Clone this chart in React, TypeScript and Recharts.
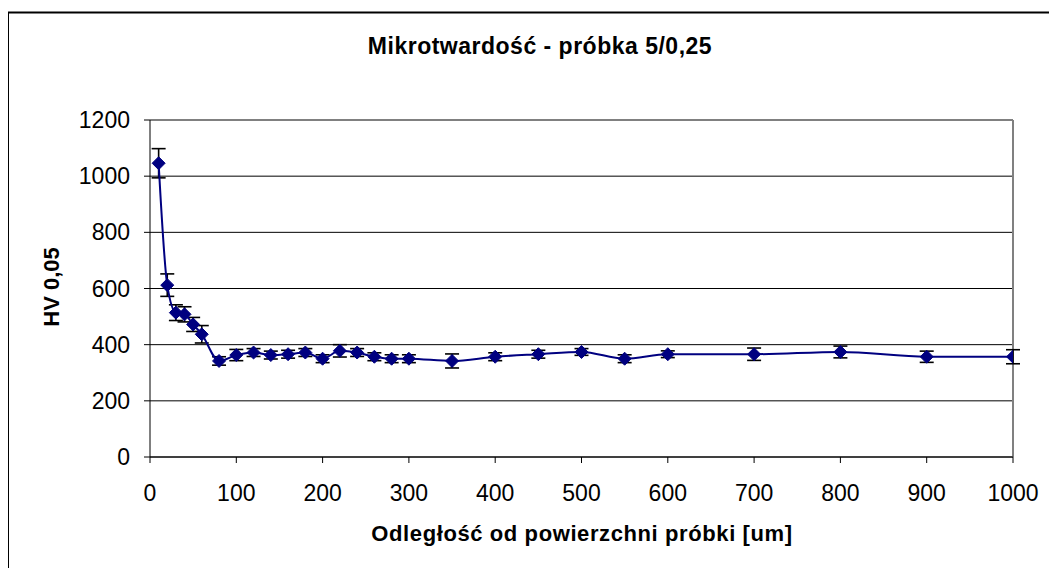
import React from 'react';
import { LineChart, Line, XAxis, YAxis, CartesianGrid, ErrorBar, ReferenceLine } from 'recharts';

const distances = [10, 20, 30, 40, 50, 60, 80, 100, 120, 140, 160, 180, 200, 220, 240, 260, 280, 300, 350, 400, 450, 500, 550, 600, 700, 800, 900, 1000];
const hardness = [1046, 612, 514, 508, 472, 437, 342, 363, 372, 363, 366, 372, 350, 378, 372, 357, 350, 350, 342, 357, 366, 374, 350, 366, 366, 374, 357, 357];
const errors = [52, 40, 28, 27, 25, 31, 15, 20, 14, 14, 14, 14, 14, 22, 14, 14, 14, 14, 25, 14, 14, 12, 14, 12, 22, 21, 20, 25];
const xTicks = [0, 100, 200, 300, 400, 500, 600, 700, 800, 900, 1000];
const yTicks = [0, 200, 400, 600, 800, 1000, 1200];

const title = 'Mikrotwardość - próbka 5/0,25';
const xLabel = 'Odległość od powierzchni próbki [um]';
const yLabel = 'HV 0,05';

const data = distances.map((d, i) => ({ x: d, hv: hardness[i], err: errors[i] }));

const FONT = '"Liberation Sans", Arial, sans-serif';

const Diamond = (props: any) => {
  const { cx, cy, index } = props;
  if (cx == null || cy == null) return <g key={`e-${index}`} />;
  const r = 6.5;
  return (
    <path
      key={`d-${index}`}
      d={`M${cx},${cy - r}L${cx + r},${cy}L${cx},${cy + r}L${cx - r},${cy}Z`}
      fill="#000080"
      stroke="#000080"
      strokeWidth={1}
    />
  );
};

export default function App() {
  return (
    <div style={{ position: 'relative', width: 1041, height: 560, fontFamily: FONT }}>
      <LineChart
        width={1041}
        height={560}
        data={data}
        margin={{ top: 112, right: 36, bottom: 81, left: 0 }}
        style={{ fontFamily: FONT }}
      >
        <CartesianGrid horizontal vertical={false} stroke="#000" strokeWidth={1} />
        <XAxis
          dataKey="x"
          type="number"
          domain={[0, 1000]}
          ticks={xTicks}
          height={30}
          tickSize={6}
          tickMargin={22}
          axisLine={{ stroke: '#000' }}
          tickLine={{ stroke: '#000' }}
          tick={{ fill: '#000', fontSize: 23, fontFamily: FONT }}
          interval={0}
          allowDataOverflow
        />
        <YAxis
          type="number"
          domain={[0, 1200]}
          ticks={yTicks}
          width={142}
          tickSize={6}
          tickMargin={14}
          axisLine={{ stroke: '#000' }}
          tickLine={{ stroke: '#000' }}
          tick={{ fill: '#000', fontSize: 23, fontFamily: FONT }}
          interval={0}
          allowDataOverflow
        />
        <ReferenceLine y={1200} stroke="#808080" strokeWidth={2} ifOverflow="visible" />
        <ReferenceLine x={1000} stroke="#808080" strokeWidth={2} ifOverflow="visible" />
        <Line
          dataKey="hv"
          type="monotone"
          stroke="#000080"
          strokeWidth={2}
          dot={Diamond}
          activeDot={false}
          isAnimationActive={false}
        >
          <ErrorBar dataKey="err" width={7} stroke="#000" strokeWidth={1.6} direction="y" />
        </Line>
      </LineChart>
      <svg
        width={1057}
        height={576}
        style={{ position: 'absolute', left: -8, top: -8, pointerEvents: 'none', overflow: 'visible' }}
      >
        <line x1={8} y1={12.5} x2={1057} y2={12.5} stroke="#000" strokeWidth={2} />
        <line x1={8} y1={12} x2={8} y2={576} stroke="#000" strokeWidth={2} />
        <text x={540} y={53.5} textAnchor="middle" fontSize={23} fontWeight="bold" letterSpacing={0.5} fontFamily={FONT} fill="#000">
          {title}
        </text>
        <text x={582} y={541} textAnchor="middle" fontSize={22} fontWeight="bold" letterSpacing={0.6} fontFamily={FONT} fill="#000">
          {xLabel}
        </text>
        <text
          transform="translate(59,287) rotate(-90)"
          textAnchor="middle"
          fontSize={22}
          fontWeight="bold"
          fontFamily={FONT}
          fill="#000"
        >
          {yLabel}
        </text>
      </svg>
    </div>
  );
}
